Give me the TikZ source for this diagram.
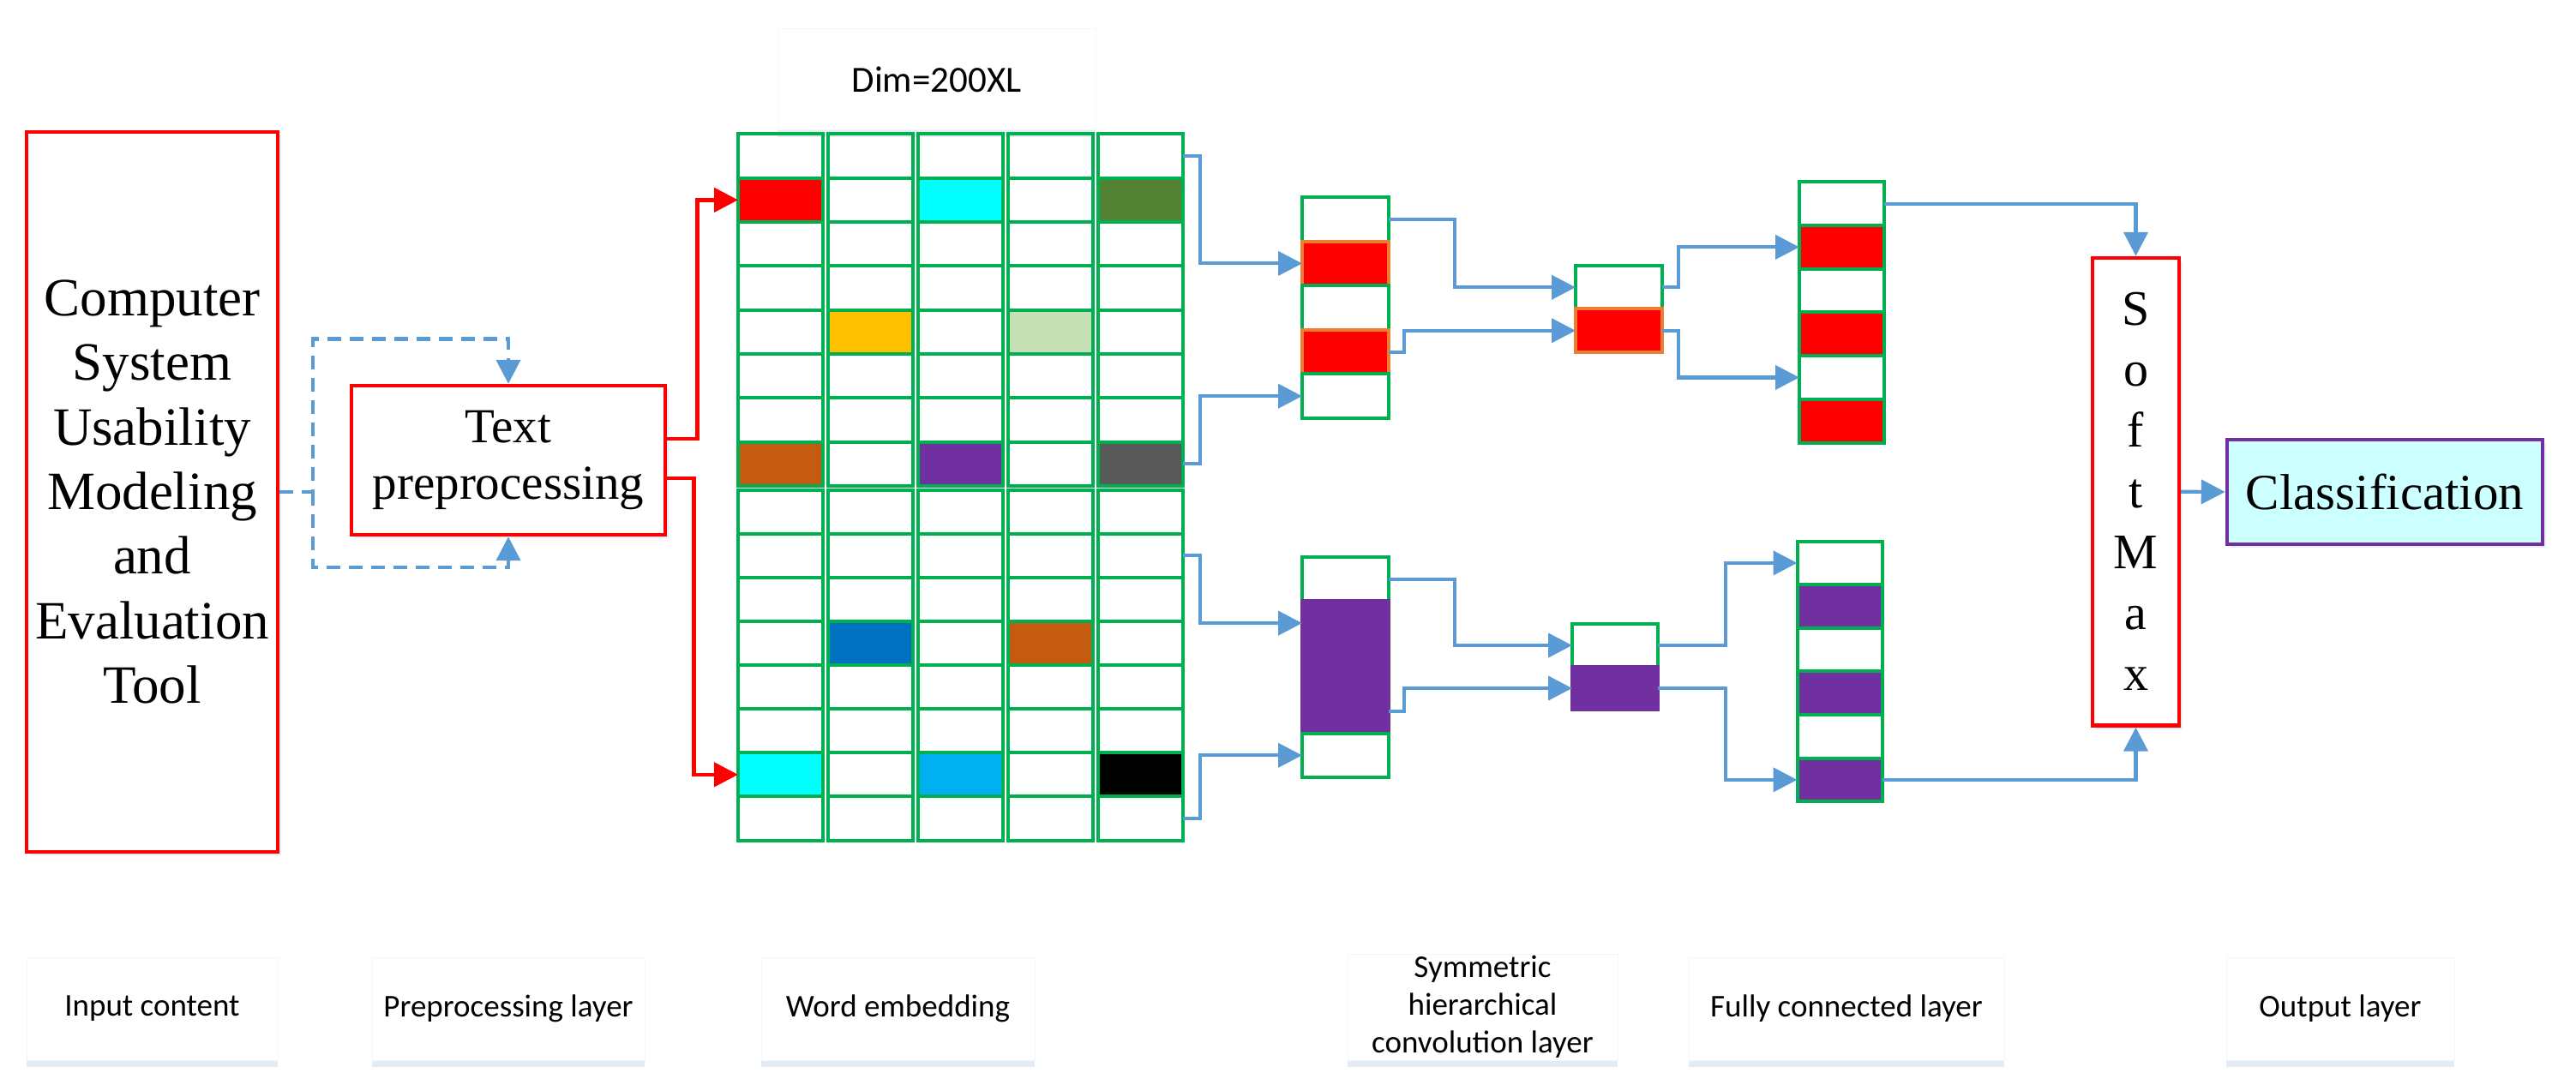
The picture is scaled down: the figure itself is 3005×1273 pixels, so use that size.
\documentclass[tikz,border=0pt]{standalone}
\usepackage{fontspec}
\setmainfont{Liberation Serif}
\newfontfamily\labfont{Carlito}
\usetikzlibrary{arrows.meta,shadows,calc}

\definecolor{cgreen}{HTML}{00B050}
\definecolor{cblue}{HTML}{5B9BD5}
\definecolor{cred}{HTML}{FF0000}
\definecolor{corange}{HTML}{ED7D31}
\definecolor{cpurple}{HTML}{7030A0}
\definecolor{ccyan}{HTML}{00FFFF}
\definecolor{cdkgreen}{HTML}{548235}
\definecolor{cyellow}{HTML}{FFC000}
\definecolor{cltgreen}{HTML}{C5E0B4}
\definecolor{cbrown}{HTML}{C55A11}
\definecolor{cgray}{HTML}{595959}
\definecolor{cdblue}{HTML}{0070C0}
\definecolor{cltblue}{HTML}{00B0F0}
\definecolor{cclass}{HTML}{CCFFFF}
\definecolor{shadowc}{HTML}{DCE6F2}
\definecolor{labedge}{HTML}{F3F6FA}

\tikzset{
  redbox/.style={draw=cred, line width=2.2pt, fill=white, inner sep=0pt,
    drop shadow={shadow xshift=2pt, shadow yshift=-2pt, fill=shadowc, opacity=0.7}},
  labbox/.style={draw=labedge, line width=0.5pt, fill=white, inner sep=0pt, align=center,
    font={\labfont\fontsize{18.5}{22}\selectfont},
    drop shadow={shadow xshift=0pt, shadow yshift=-4pt, fill=shadowc, opacity=0.8}},
  cell/.style={draw=cgreen, line width=2pt, minimum width=49.5pt, inner sep=0pt, outer sep=0pt, anchor=north west},
  cellb/.style={line width=2pt, inner sep=0pt, outer sep=0pt, anchor=north west},
  bline/.style={draw=cblue, line width=2.1pt},
  barr/.style={bline, -{Triangle[length=14pt,width=14pt]}},
  rarr/.style={draw=cred, line width=2.3pt, -{Triangle[length=14pt,width=14pt]}},
  dasharr/.style={draw=cblue, line width=2.1pt, dash pattern=on 8pt off 5pt, -{Triangle[length=14pt,width=14pt]}},
}

\begin{document}
\begin{tikzpicture}[x=0.5pt,y=-0.5pt]
\fill[white] (0,0) rectangle (3005,1273);
\useasboundingbox (0,0) rectangle (3005,1273);

% ---------- input and preprocessing ----------
\node[redbox, minimum width=146.5pt, minimum height=420pt, align=center,
      font={\fontsize{31.5}{37.7}\selectfont}] (big) at (177.5,574)
      {Computer\\System\\Usability\\Modeling\\and\\Evaluation\\Tool};
\node[redbox, minimum width=183pt, minimum height=87pt, align=center,
      font={\fontsize{28.5}{33}\selectfont}] (pre) at (593,537)
      {Text\\preprocessing};

\draw[dasharr] (big.east) -- ++(39,0) coordinate (dj) -- ++(0,-178.5) -| (pre.north);
\draw[dasharr] (dj) -- ++(0,88) -| (pre.south);

% ---------- Dim label ----------
\node[labbox, font={\labfont\fontsize{21.5}{25}\selectfont}, minimum width=185.5pt, minimum height=59pt] (dim) at (1092.5,93) {Dim=200XL};

% ---------- word embedding grid ----------
\foreach \c/\r/\cc in {1/2/cred, 3/2/ccyan, 5/2/cdkgreen, 2/5/cyellow, 4/5/cltgreen, 1/8/cbrown, 3/8/cpurple, 5/8/cgray}
  \fill[\cc] ({861+(\c-1)*105}, {156.4+(\r-1)*51.3}) rectangle ++(99,51.3);
\foreach \c/\r/\cc in {2/4/cdblue, 4/4/cbrown, 1/7/ccyan, 3/7/cltblue, 5/7/black}
  \fill[\cc] ({861+(\c-1)*105}, {571.7+(\r-1)*51.1}) rectangle ++(99,51.1);

\foreach \g/\yo/\h in {a/156.4/51.3, b/571.7/51.1}{
  \foreach \c in {1,...,5}{
    \foreach \r in {1,...,8}{
      \node[cell, minimum height=\h*0.5pt] (g\g-\c-\r) at ({861+(\c-1)*105}, {\yo+(\r-1)*\h}) {};
    }
  }
}

\draw[rarr] (pre.east) ++(0,-25) -- ++(35,0) |- (ga-1-2.west);
\draw[rarr] (pre.east) ++(0,21) -- ++(31,0) |- (gb-1-7.west);

% ---------- convolution layer ----------
\foreach \r/\f/\d in {1/white/cgreen, 2/cred/corange, 3/white/cgreen, 4/cred/corange, 5/white/cgreen}
  \node[cellb, fill=\f, draw=\d, minimum width=50.5pt, minimum height=25.8pt] (k1-\r) at (1519,{230+(\r-1)*51.6}) {};
\foreach \r/\f/\d in {1/white/cgreen, 2/cpurple/cpurple, 3/cpurple/cpurple, 4/cpurple/cpurple, 5/white/cgreen}
  \node[cellb, fill=\f, draw=\d, minimum width=50.5pt, minimum height=25.7pt] (k2-\r) at (1519,{650+(\r-1)*51.4}) {};

% ---------- pooling ----------
\foreach \r/\f/\d in {1/white/cgreen, 2/cred/corange}
  \node[cellb, fill=\f, draw=\d, minimum width=50.5pt, minimum height=25.25pt] (p1-\r) at (1838,{310+(\r-1)*50.5}) {};
\foreach \r/\f/\d in {1/white/cgreen, 2/cpurple/cpurple}
  \node[cellb, fill=\f, draw=\d, minimum width=50pt, minimum height=25pt] (p2-\r) at (1834,{728+(\r-1)*50}) {};

% ---------- fully connected ----------
\foreach \r/\f in {1/white, 2/cred, 3/white, 4/cred, 5/white, 6/cred}
  \node[cellb, fill=\f, draw=cgreen, minimum width=49.5pt, minimum height=25.35pt] (f1-\r) at (2099,{212.3+(\r-1)*50.7}) {};
\foreach \r/\f in {1/white, 2/cpurple, 3/white, 4/cpurple, 5/white, 6/cpurple}
  \node[cellb, fill=\f, draw=cgreen, minimum width=49.75pt, minimum height=25.3pt] (f2-\r) at (2096.5,{631.6+(\r-1)*50.6}) {};

% ---------- softmax and output ----------
\node[redbox, minimum width=50.5pt, minimum height=272.75pt, align=center,
      font={\fontsize{29}{35.5}\selectfont}] (sm) at (2491.5,573.75) {S\\o\\f\\t\\M\\a\\x};
\node[draw=cpurple, line width=2pt, fill=cclass, inner sep=0pt, minimum width=184.25pt, minimum height=61pt,
      font={\fontsize{29.5}{35}\selectfont},
      drop shadow={shadow xshift=2pt, shadow yshift=-2pt, fill=shadowc, opacity=0.7}] (cls) at (2782,574) {Classification};

% ---------- blue connectors ----------
\draw[barr] (ga-5-1.east) -- ++(20,0) |- (k1-2.west);
\draw[barr] (ga-5-8.east) -- ++(20,0) |- (k1-5.west);
\draw[barr] (gb-5-2.east) -- ++(20,0) |- (k2-2.west);
\draw[barr] (gb-5-8.east) -- ++(20,0) |- (k2-5.west);
\draw[barr] (k1-1.east) -- ++(77,0) |- (p1-1.west);
\draw[barr] (k1-4.east) -- ++(18,0) |- (p1-2.west);
\draw[barr] (k2-1.east) -- ++(77,0) |- (p2-1.west);
\draw[barr] (k2-4.east) -- ++(18,0) |- (p2-2.west);
\draw[barr] (p1-1.east) -- ++(19,0) |- (f1-2.west);
\draw[barr] (p1-2.east) -- ++(19,0) |- (f1-5.west);
\draw[barr] (p2-1.east) -- ++(78.6,0) |- (f2-1.west);
\draw[barr] (p2-2.east) -- ++(78.6,0) |- (f2-6.west);
\draw[barr] (f1-1.east) -| (sm.north);
\draw[barr] (f2-6.east) -| (sm.south);
\draw[barr] (sm.east) -- (cls.west);

% ---------- bottom labels ----------
\node[labbox, minimum width=146.5pt, minimum height=60pt] (l1) at (177.5,1177) {Input content};
\node[labbox, minimum width=159pt, minimum height=60pt] (l2) at (593,1177) {Preprocessing layer};
\node[labbox, minimum width=159.5pt, minimum height=60pt] (l3) at (1047.5,1177) {Word embedding};
\node[labbox, minimum width=157.5pt, minimum height=62pt] (l4) at (1729.5,1175) {Symmetric\\hierarchical\\convolution layer};
\node[labbox, minimum width=184pt, minimum height=60pt] (l5) at (2154,1177) {Fully connected layer};
\node[labbox, minimum width=133pt, minimum height=60pt] (l6) at (2730,1177) {Output layer};
\end{tikzpicture}
\end{document}
